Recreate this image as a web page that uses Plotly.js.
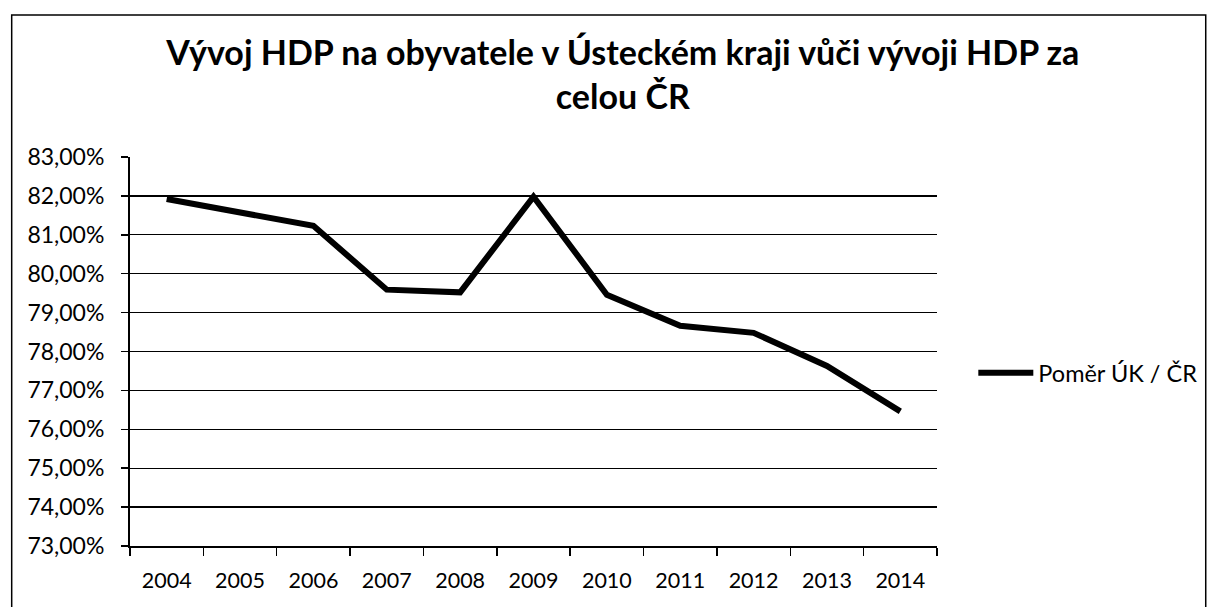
<!DOCTYPE html>
<html>
<head>
<meta charset="utf-8">
<script src="https://cdn.plot.ly/plotly-3.0.1.min.js"></script>
<style>html,body{margin:0;padding:0;background:#fff;}#chart{width:1214px;height:607px;}</style>
</head>
<body>
<div id="chart"></div>
<script>
const years = ['2004','2005','2006','2007','2008','2009','2010','2011','2012','2013','2014'];
const ratioUKtoCR = [81.92, 81.57, 81.23, 79.59, 79.52, 81.98, 79.46, 78.66, 78.48, 77.63, 76.46];
const seriesName = 'Poměr ÚK / ČR';
const titleText = 'Vývoj HDP na obyvatele v Ústeckém kraji vůči vývoji HDP za<br>celou ČR';
const yTicks = [73,74,75,76,77,78,79,80,81,82,83];
const yTickText = yTicks.map(v => v.toFixed(2).replace('.', ',') + '%');

const font = 'Lato, "Open Sans", sans-serif';

Plotly.newPlot('chart', [{
  x: years,
  y: ratioUKtoCR,
  type: 'scatter',
  mode: 'lines',
  name: seriesName,
  line: {color: '#000', width: 6},
  showlegend: true
}], {
  width: 1214, height: 607,
  paper_bgcolor: '#fff', plot_bgcolor: '#fff',
  margin: {l: 130, r: 275, t: 157, b: 61},
  font: {family: font, color: '#000', size: 16},
  title: {text: '<b>' + titleText + '</b>', font: {family: font, size: 34, color: '#000'},
          x: 0.513, xref: 'container', xanchor: 'center', y: 0.893, yref: 'container', yanchor: 'middle'},
  xaxis: {
    type: 'category', range: [-0.5, 10.5], tickson: 'boundaries', ticks: 'outside', ticklen: 8, tickcolor: '#000', tickwidth: 1.5,
    showline: true, linecolor: '#000', linewidth: 1.5, showgrid: false, zeroline: false,
    ticklabelstandoff: 15,
    tickfont: {family: font, size: 21.5, color: '#000'}, fixedrange: true
  },
  yaxis: {
    range: [73, 83], tickvals: yTicks, ticktext: yTickText,
    ticks: 'outside', ticklen: 7, tickcolor: '#000', tickwidth: 1.5,
    showline: true, linecolor: '#000', linewidth: 2, showgrid: true, gridcolor: '#000', gridwidth: 1.3,
    zeroline: false, ticklabelstandoff: 12, tickfont: {family: font, size: 23, color: '#000'}, fixedrange: true
  },
  legend: {x: 1.045, xanchor: 'left', y: 0.445, yanchor: 'middle', font: {family: font, size: 23.5, color: '#000'},
           itemwidth: 55, bgcolor: 'rgba(0,0,0,0)'},
  shapes: [{type: 'rect', xref: 'paper', yref: 'paper', x0: -0.1466, x1: 1.333, y0: -0.2, y1: 1.365,
            line: {color: '#000', width: 1.5}, fillcolor: 'rgba(0,0,0,0)', layer: 'below'}]
}, {displayModeBar: false, staticPlot: true});
</script>
</body>
</html>
